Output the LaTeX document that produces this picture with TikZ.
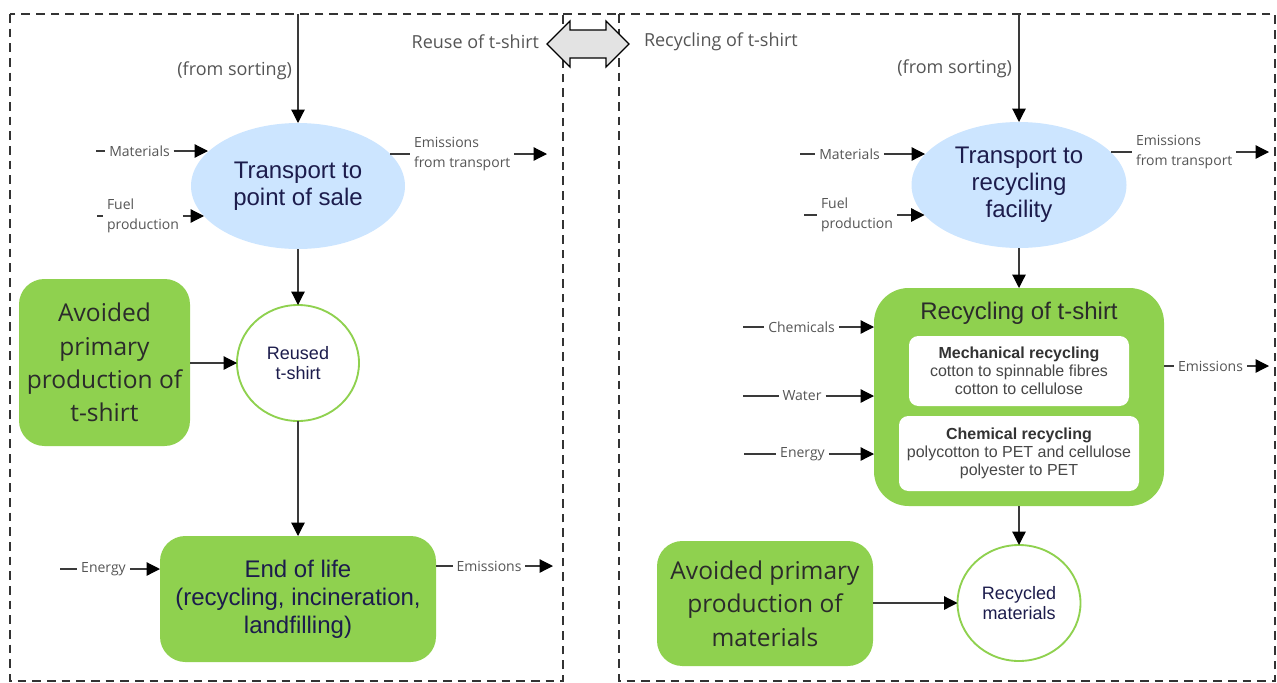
\documentclass[tikz,border=0pt]{standalone}
\usepackage{fontspec}
\setmainfont{Liberation Sans}
\newfontfamily\osans{Open Sans}
\usetikzlibrary{arrows.meta,shapes.geometric}
\definecolor{bluefill}{HTML}{CCE5FF}
\definecolor{grn}{HTML}{8FD14F}
\definecolor{navy}{HTML}{1C1C4C}
\definecolor{lblgray}{HTML}{555555}
\definecolor{dk}{HTML}{2B2B2B}
\definecolor{linegray}{HTML}{3A3A3A}
\definecolor{arrfill}{HTML}{E3E3E3}
\begin{document}
\begin{tikzpicture}[x=0.75pt,y=-0.75pt,
  every node/.style={inner sep=0pt, outer sep=0pt},
  transp/.style={ellipse, fill=bluefill, text=navy, align=center,
    font=\fontsize{18}{20.25}\selectfont},
  greenbox/.style={rectangle, rounded corners=19pt, fill=grn, align=center},
  avoidtxt/.style={font=\osans\fontsize{18.4}{25}\selectfont, text=dk},
  ring/.style={ellipse, draw=grn, line width=1.4pt, fill=white, text=navy,
    align=center, font=\fontsize{13.5}{15}\selectfont},
  subbox/.style={rectangle, rounded corners=7pt, fill=white, align=center,
    text=black!72, font=\fontsize{12}{13.5}\selectfont},
  lbl/.style={font=\osans\fontsize{10.5}{15}\selectfont, text=lblgray, inner xsep=3pt},
  toplbl/.style={font=\osans\fontsize{13.5}{16}\selectfont, text=lblgray},
  flow/.style={draw=linegray, line width=0.9pt, -{Triangle[length=10pt,width=10pt,color=black]}},
  plain/.style={draw=linegray, line width=0.9pt},
  frame/.style={draw=black!80, line width=1.1pt, dash pattern=on 6.5pt off 4.5pt}
]
\useasboundingbox (0,0) rectangle (1277,682);

% frames
\draw[frame] (10,14) rectangle (563,681);
\draw[frame] (619,14) rectangle (1275,681);
\draw[frame] (563,14) -- (619,14);

% double arrow between the two parts
\draw[fill=arrfill, draw=black, line width=0.9pt, line join=miter]
  (547,44) -- (570,21) -- (570,30) -- (606,30) -- (606,21) -- (629,44)
  -- (606,67) -- (606,58) -- (570,58) -- (570,67) -- cycle;
\node[toplbl, anchor=east] (reuse) at (539,42) {Reuse of t-shirt};
\node[toplbl, anchor=west] (recyc) at (644,42) {Recycling of t-shirt};

% ---------------- LEFT: reuse ----------------
\coordinate (topL) at (298,14);
\node[toplbl, anchor=east] (fromL) at (292,71) {(from sorting)};
\node[transp, minimum width=160.5pt, minimum height=94.5pt] (e1) at (298,186)
  {Transport to\\point of sale};
\node[ring, minimum width=91.5pt, minimum height=87pt] (c1) at (298,363)
  {Reused\\t-shirt};
\node[greenbox, minimum width=128.25pt, minimum height=125.25pt, avoidtxt] (av1)
  at (104.5,362.5) {Avoided\\primary\\production of\\t-shirt};
\node[greenbox, minimum width=207pt, minimum height=94.5pt, text=navy,
  font=\fontsize{18}{21}\selectfont] (eol) at (298,599)
  {End of life\\(recycling, incineration,\\landfilling)};

\draw[flow] (topL) -- (e1.north);
\draw[flow] (e1.south) -- (c1.north);
\draw[flow] (av1.east |- c1.west) -- (c1.west);
\draw[flow] (c1.south) -- (eol.north);

% inputs / outputs of transport
\node[lbl] (matL) at (139.5,151) {Materials};
\coordinate (matLs) at (96,151);
\coordinate (matLt) at (208,151);
\draw[plain] (matLs) -- (matL.west);
\draw[flow] (matL.east) -- (matLt);

\node[lbl, anchor=west, align=left] (fuelL) at (103,216) {Fuel\\production};
\coordinate (fuelLs) at (97,216);
\coordinate (fuelLt) at (204,216);
\draw[plain] (fuelLs) -- (fuelL.west);
\draw[flow] (fuelL.east) -- (fuelLt);

\node[lbl, anchor=west, align=left] (emL) at (410,154) {Emissions\\from transport};
\coordinate (emLs) at (390,154);
\coordinate (emLt) at (547,154);
\draw[plain] (emLs) -- (emL.west);
\draw[flow] (emL.east) -- (emLt);

% inputs / outputs of end of life
\node[lbl] (enL) at (103.5,569) {Energy};
\coordinate (enLs) at (60,569);
\draw[plain] (enLs) -- (enL.west);
\draw[flow] (enL.east) -- (enL.east -| eol.west);

\node[lbl] (emL2) at (489,566) {Emissions};
\coordinate (emL2t) at (553,566);
\draw[plain] (emL2.west -| eol.east) -- (emL2.west);
\draw[flow] (emL2.east) -- (emL2t);

% ---------------- RIGHT: recycling ----------------
\coordinate (topR) at (1019,14);
\node[toplbl, anchor=east] (fromR) at (1012,69) {(from sorting)};
\node[transp, minimum width=161.25pt, minimum height=94.5pt] (e2) at (1019,185)
  {Transport to\\recycling\\facility};
\node[greenbox, rounded corners=26pt, minimum width=217.5pt, minimum height=163.5pt]
  (rec) at (1019,397) {};
\node[anchor=base, text=dk, font=\fontsize{18}{20}\selectfont] (rectitle)
  at (1019,319) {Recycling of t-shirt};
\node[subbox, minimum width=165pt, minimum height=52.5pt] (sb1) at (1019,371)
  {\textbf{\color{black!80}Mechanical recycling}\\cotton to spinnable fibres\\cotton to cellulose};
\node[subbox, minimum width=180pt, minimum height=56.25pt] (sb2) at (1019,453.5)
  {\textbf{\color{black!80}Chemical recycling}\\polycotton to PET and cellulose\\polyester to PET};
\node[ring, minimum width=92.25pt, minimum height=87pt] (c2) at (1019,603)
  {Recycled\\materials};
\node[greenbox, minimum width=162pt, minimum height=93.75pt, avoidtxt] (av2)
  at (765,603.5) {Avoided primary\\production of\\materials};

\draw[flow] (topR) -- (e2.north);
\draw[flow] (e2.south) -- (rec.north);
\draw[flow] (rec.south) -- (c2.north);
\draw[flow] (av2.east |- c2.west) -- (c2.west);

% inputs / outputs of transport
\node[lbl] (matR) at (849.5,154) {Materials};
\coordinate (matRs) at (800,154);
\coordinate (matRt) at (925,154);
\draw[plain] (matRs) -- (matR.west);
\draw[flow] (matR.east) -- (matRt);

\node[lbl, anchor=west, align=left] (fuelR) at (817,215) {Fuel\\production};
\coordinate (fuelRs) at (804,215);
\coordinate (fuelRt) at (924.5,215);
\draw[plain] (fuelRs) -- (fuelR.west);
\draw[flow] (fuelR.east) -- (fuelRt);

\node[lbl, anchor=west, align=left] (emR) at (1132,152) {Emissions\\from transport};
\coordinate (emRs) at (1111,152);
\coordinate (emRt) at (1269,152);
\draw[plain] (emRs) -- (emR.west);
\draw[flow] (emR.east) -- (emRt);

% inputs / outputs of recycling
\node[lbl] (chemR) at (801.5,327) {Chemicals};
\coordinate (chemRs) at (743,327);
\draw[plain] (chemRs) -- (chemR.west);
\draw[flow] (chemR.east) -- (chemR.east -| rec.west);

\node[lbl] (watR) at (802,396) {Water};
\coordinate (watRs) at (743,396);
\draw[plain] (watRs) -- (watR.west);
\draw[flow] (watR.east) -- (watR.east -| rec.west);

\node[lbl] (enR) at (802.5,454) {Energy};
\coordinate (enRs) at (744,454);
\draw[plain] (enRs) -- (enR.west);
\draw[flow] (enR.east) -- (enR.east -| rec.west);

\node[lbl] (emR2) at (1210.5,366) {Emissions};
\coordinate (emR2t) at (1269,366);
\draw[plain] (emR2.west -| rec.east) -- (emR2.west);
\draw[flow] (emR2.east) -- (emR2t);
\end{tikzpicture}
\end{document}
